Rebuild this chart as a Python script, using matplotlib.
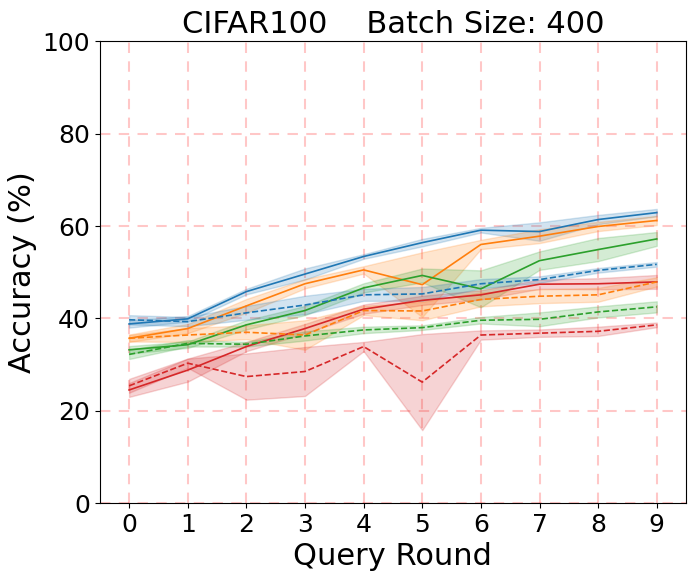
import numpy as np
import matplotlib
matplotlib.use("Agg")
import matplotlib.pyplot as plt

rounds = list(range(10))

blue_solid = [38.8, 39.9, 45.8, 49.6, 53.4, 56.4, 59.1, 58.8, 61.4, 62.9]
blue_solid_sd = [0.8, 0.6, 0.6, 1.2, 0.5, 0.8, 0.5, 2.0, 1.0, 0.8]
orange_solid = [35.7, 37.8, 42.7, 47.5, 50.5, 47.3, 56.0, 57.8, 59.9, 61.2]
orange_solid_sd = [0.8, 1.0, 1.5, 1.0, 0.8, 7.0, 1.0, 1.5, 1.0, 1.0]
green_solid = [33.2, 34.3, 38.6, 41.7, 46.6, 49.3, 46.4, 52.5, 54.9, 57.2]
green_solid_sd = [0.8, 0.7, 1.0, 1.0, 1.0, 1.5, 4.0, 2.0, 2.5, 1.5]
red_solid = [24.5, 28.8, 33.9, 37.8, 42.0, 43.9, 45.1, 47.4, 47.5, 47.9]
red_solid_sd = [1.5, 2.5, 1.0, 1.0, 1.0, 1.0, 1.0, 1.0, 1.2, 1.5]

blue_dash = [39.7, 39.3, 41.2, 42.9, 45.1, 45.3, 47.5, 48.4, 50.4, 51.7]
blue_dash_sd = [1.0, 1.0, 1.5, 2.0, 1.3, 1.5, 1.0, 0.7, 0.5, 0.5]
orange_dash = [35.7, 36.4, 37.0, 36.4, 41.7, 41.6, 44.1, 44.8, 45.1, 47.9]
orange_dash_sd = [0.7, 1.5, 1.5, 3.2, 1.0, 2.0, 1.5, 1.5, 1.5, 1.0]
green_dash = [32.2, 34.6, 34.4, 36.2, 37.5, 38.0, 39.6, 39.8, 41.4, 42.5]
green_dash_sd = [1.0, 0.7, 0.5, 1.0, 0.7, 0.5, 0.7, 1.5, 1.2, 1.2]
red_dash = [25.4, 30.3, 27.4, 28.5, 33.9, 26.2, 36.4, 36.8, 37.2, 38.6]
red_dash_sd = [1.5, 1.0, 5.0, 5.3, 1.0, 10.4, 1.0, 0.8, 1.0, 0.5]

C = {"blue": "#1f77b4", "orange": "#ff7f0e", "green": "#2ca02c", "red": "#d62728"}

series = [
    (blue_solid, blue_solid_sd, C["blue"], "-"),
    (orange_solid, orange_solid_sd, C["orange"], "-"),
    (green_solid, green_solid_sd, C["green"], "-"),
    (red_solid, red_solid_sd, C["red"], "-"),
    (blue_dash, blue_dash_sd, C["blue"], "--"),
    (orange_dash, orange_dash_sd, C["orange"], "--"),
    (green_dash, green_dash_sd, C["green"], "--"),
    (red_dash, red_dash_sd, C["red"], "--"),
]

fig = plt.figure(figsize=(6.93, 5.81), dpi=100)
ax = fig.add_axes([0.144, 0.134, 0.846, 0.795])

x = np.array(rounds)
for m, s, c, ls in series:
    m = np.array(m); s = np.array(s)
    ax.fill_between(x, m - s, m + s, color=c, alpha=0.2, linewidth=1)
    ax.plot(x, m, color=c, linestyle=ls, linewidth=1.2)

ax.set_xlim(-0.5, 9.5)
ax.set_ylim(0, 100)
ax.set_xticks(rounds)
ax.set_yticks([0, 20, 40, 60, 80, 100])
ax.tick_params(labelsize=18)
ax.grid(True, color="red", alpha=0.22, linestyle="--", linewidth=1.5, dashes=(5, 4))
ax.set_axisbelow(True)
ax.set_xlabel("Query Round", fontsize=22)
ax.set_ylabel("Accuracy (%)", fontsize=22)
ax.set_title("CIFAR100    Batch Size: 400", fontsize=22)

fig.savefig("out.png", dpi=100)
